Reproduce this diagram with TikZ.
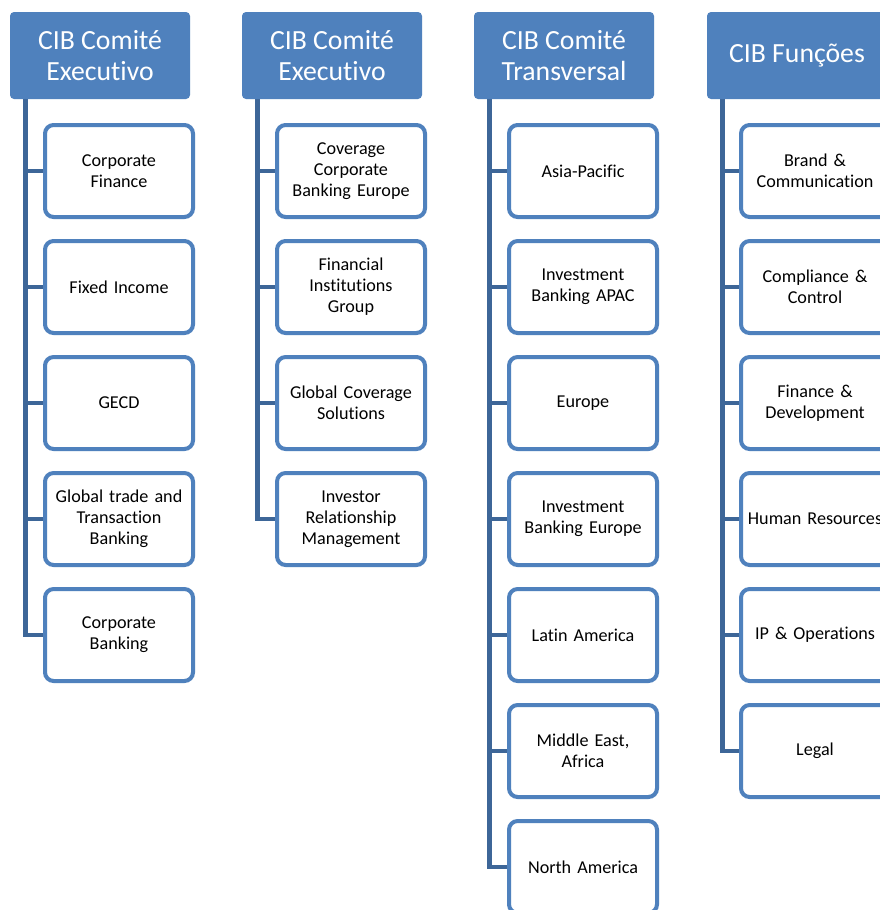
\documentclass[tikz,border=0pt]{standalone}
\usepackage{fontspec}
\setmainfont{Carlito}[Ligatures=CommonOff]
\usetikzlibrary{calc,backgrounds}
\definecolor{hdrblue}{HTML}{4F81BD}
\definecolor{boxblue}{HTML}{4F81BD}
\definecolor{linkblue}{HTML}{3D6698}
\tikzset{
  hdr/.style={fill=hdrblue, draw=none, rounded corners=3pt, minimum width=135pt,
    minimum height=65.25pt, inner sep=0pt, align=center, text=white,
    font=\fontsize{20.8}{23.3}\selectfont},
  unit/.style={draw=boxblue, fill=white, line width=3pt, rounded corners=6.5pt,
    minimum width=111pt, minimum height=69pt, inner sep=0pt, align=center,
    text width=110pt, font=\fontsize{13.6}{15.7}\selectfont},
  conn/.style={draw=linkblue, line width=3.6pt, line join=miter}
}
\begin{document}
\begin{tikzpicture}[x=0.75pt,y=-0.75pt]
\useasboundingbox (0,0) rectangle (879,910);

% headers
\node[hdr] (h1) at (100,55.5) {CIB Comité\\Executivo};
\node[hdr] (h2) at (332,55.5) {CIB Comité\\Executivo};
\node[hdr] (h3) at (564,55.5) {CIB Comité\\Transversal};
\node[hdr] (h4) at (797,55.5) {CIB Funções};

% column 1
\node[unit] (a1) at (119,171) {Corporate\\Finance};
\node[unit] (a2) at (119,287) {Fixed Income};
\node[unit] (a3) at (119,403) {GECD};
\node[unit] (a4) at (119,519) {Global trade and\\Transaction\\Banking};
\node[unit] (a5) at (119,635) {Corporate\\Banking};

% column 2
\node[unit] (b1) at (351,171) {Coverage\\Corporate\\Banking Europe};
\node[unit] (b2) at (351,287) {Financial\\Institutions\\Group};
\node[unit] (b3) at (351,403) {Global Coverage\\Solutions};
\node[unit] (b4) at (351,519) {Investor\\Relationship\\Management};

% column 3
\node[unit] (c1) at (583,171) {Asia-Pacific};
\node[unit] (c2) at (583,287) {Investment\\Banking APAC};
\node[unit] (c3) at (583,403) {Europe};
\node[unit] (c4) at (583,519) {Investment\\Banking Europe};
\node[unit] (c5) at (583,635) {Latin America};
\node[unit] (c6) at (583,751) {Middle East,\\Africa};
\node[unit] (c7) at (583,867) {North America};

% column 4
\node[unit] (d1) at (815,171) {Brand \&\\Communication};
\node[unit] (d2) at (815,287) {Compliance \&\\Control};
\node[unit] (d3) at (815,403) {Finance \&\\Development};
\node[unit] (d4) at (815,519) {Human Resources};
\node[unit] (d5) at (815,635) {IP \& Operations};
\node[unit] (d6) at (815,751) {Legal};

% trunk start points under each header
\coordinate (t1) at ($(h1.south west)+(15.5,0)$);
\coordinate (t2) at ($(h2.south west)+(15.5,0)$);
\coordinate (t3) at ($(h3.south west)+(15.5,0)$);
\coordinate (t4) at ($(h4.south west)+(15.5,0)$);

\begin{scope}[on background layer]
  \fill[white] (0,0) rectangle (879,910);
  \foreach \n in {a1,a2,a3,a4,a5} \draw[conn] (t1) |- (\n.west);
  \foreach \n in {b1,b2,b3,b4} \draw[conn] (t2) |- (\n.west);
  \foreach \n in {c1,c2,c3,c4,c5,c6,c7} \draw[conn] (t3) |- (\n.west);
  \foreach \n in {d1,d2,d3,d4,d5,d6} \draw[conn] (t4) |- (\n.west);
\end{scope}
\end{tikzpicture}
\end{document}
